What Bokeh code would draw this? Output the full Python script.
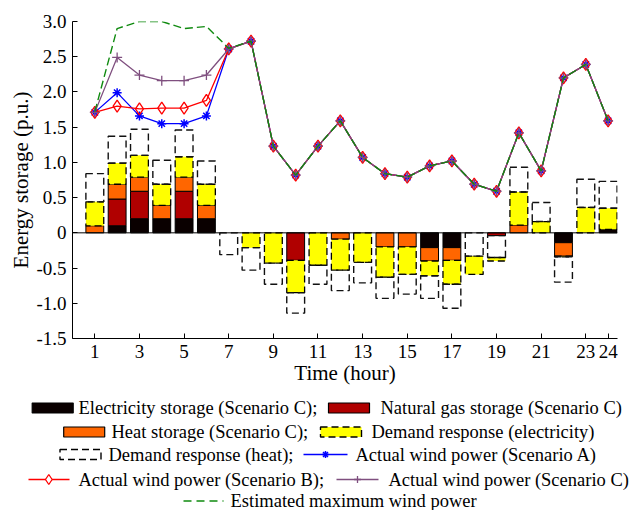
from bokeh.plotting import figure
from bokeh.models import Range1d, FixedTicker, Span
from bokeh.layouts import column
from bokeh.embed import file_html
from bokeh.resources import INLINE
from bokeh.core.properties import value

# ---------------- data ----------------
hours = list(range(1, 25))
x_ticks = [1, 3, 5, 7, 9, 11, 13, 15, 17, 19, 21, 23, 24]
y_ticks = [-1.5, -1.0, -0.5, 0, 0.5, 1.0, 1.5, 2.0, 2.5, 3.0]
y_tick_labels = ["-1.5", "-1.0", "-0.5", "0", "0.5", "1.0", "1.5", "2.0", "2.5", "3.0"]

elec_storage = [0, 0.10, 0.20, 0.20, 0.20, 0.20, 0, 0, 0, 0, 0, 0,
                0, 0, 0, -0.21, -0.21, 0, 0, 0, 0, -0.14, 0, 0.05]
gas_storage = [0, 0.38, 0.39, 0, 0.39, 0, 0, 0, 0, -0.39, 0, 0,
               0, 0, 0, 0, 0, 0, -0.04, 0, 0, 0, 0, 0]
heat_storage = [0.10, 0.21, 0.20, 0.19, 0.20, 0.19, 0, 0, 0, 0, 0, -0.09,
                0, -0.20, -0.20, -0.19, -0.18, 0, 0, 0.11, 0, -0.19, 0, 0]
dr_elec = [0.34, 0.30, 0.31, 0.30, 0.29, 0.30, 0, -0.21, -0.43, -0.46, -0.46, -0.44,
           -0.42, -0.43, -0.39, -0.21, -0.34, -0.26, -0.05, 0.47, 0.16, -0.01, 0.36, 0.30]
dr_heat = [0.40, 0.38, 0.37, 0.34, 0.38, 0.33, -0.31, -0.32, -0.30, -0.29, -0.27, -0.29,
           -0.29, -0.30, -0.28, -0.32, -0.34, -0.33, -0.31, 0.35, 0.27, -0.36, 0.40, 0.38]
heat_dr_first_hours = [18, 19]

common_tail = [1.23, 0.82, 1.23, 1.59, 1.07, 0.84, 0.79, 0.95, 1.02, 0.69, 0.59, 1.42,
               0.88, 2.20, 2.39, 1.59]
wind_max = [1.72, 2.90, 3.00, 3.00, 2.90, 2.93, 2.62, 2.72] + common_tail
wind_a = [1.71, 1.99, 1.66, 1.55, 1.55, 1.66, 2.61, 2.72] + common_tail
wind_b = [1.71, 1.80, 1.76, 1.77, 1.77, 1.88, 2.61, 2.72] + common_tail
wind_c = [1.71, 2.49, 2.24, 2.16, 2.16, 2.24, 2.61, 2.72] + common_tail

FONT = "'Liberation Serif', 'Times New Roman', serif"
C_ELEC = "#0a0000"
C_GAS = "#b00000"
C_HEAT = "#ff6600"
C_DRE = "#ffff00"
C_A = "#0000ff"
C_B = "#ff0000"
C_C = "#7f4f7f"
C_MAX = "#0f8a0f"

# ---------------- stacking ----------------
vals = {"elec": elec_storage, "gas": gas_storage, "heat": heat_storage,
        "dre": dr_elec, "drh": dr_heat}
segs = {k: {"x": [], "bottom": [], "top": []} for k in vals}
for i, h in enumerate(hours):
    if h in heat_dr_first_hours:
        order = ["elec", "gas", "heat", "drh", "dre"]
    else:
        order = ["elec", "gas", "heat", "dre", "drh"]
    base = 0.0
    for k in order:
        v = vals[k][i]
        if v != 0:
            segs[k]["x"].append(h)
            segs[k]["bottom"].append(base)
            segs[k]["top"].append(base + v)
        base += v

# ---------------- main figure ----------------
p = figure(width=633, height=392, x_range=Range1d(0, 24.42), y_range=Range1d(-1.5, 3.0),
           output_backend="svg", toolbar_location=None, frame_align=False,
           min_border_left=72, min_border_right=16, min_border_top=21, min_border_bottom=54)
p.xgrid.visible = False
p.ygrid.visible = False
p.outline_line_color = None
p.background_fill_color = "white"
p.border_fill_color = "white"

BW = 0.8
p.vbar(x=segs["elec"]["x"], bottom=segs["elec"]["bottom"], top=segs["elec"]["top"], width=BW,
       fill_color=C_ELEC, line_color="black", line_width=1)
p.vbar(x=segs["gas"]["x"], bottom=segs["gas"]["bottom"], top=segs["gas"]["top"], width=BW,
       fill_color=C_GAS, line_color="black", line_width=1)
p.vbar(x=segs["heat"]["x"], bottom=segs["heat"]["bottom"], top=segs["heat"]["top"], width=BW,
       fill_color=C_HEAT, line_color="black", line_width=1)
p.vbar(x=segs["dre"]["x"], bottom=segs["dre"]["bottom"], top=segs["dre"]["top"], width=BW,
       fill_color=C_DRE, line_color="black", line_width=1.3, line_dash="7 4")
p.vbar(x=segs["drh"]["x"], bottom=segs["drh"]["bottom"], top=segs["drh"]["top"], width=BW,
       fill_color=None, line_color="#111111", line_width=1.4, line_dash="7 4")

p.add_layout(Span(location=0, dimension="width", line_color="black", line_width=1))

p.line(hours, wind_a, line_color=C_A, line_width=1.3)
p.scatter(hours, wind_a, marker="asterisk", size=9, line_color=C_A, line_width=1.5)
p.line(hours, wind_b, line_color=C_B, line_width=1.3)
p.scatter(hours, wind_b, marker="diamond", size=12, line_color=C_B, fill_color=None, line_width=1.3)
p.line(hours, wind_c, line_color=C_C, line_width=1.3)
p.scatter(hours, wind_c, marker="cross", size=10, line_color=C_C, line_width=1.3)
p.line(hours, wind_max, line_color=C_MAX, line_width=1.4, line_dash="8 4")

for ax in (p.xaxis[0], p.yaxis[0]):
    ax.axis_line_color = "black"
    ax.axis_line_width = 1
    ax.major_tick_in = 5
    ax.major_tick_out = 0
    ax.minor_tick_line_color = None
    ax.major_tick_line_color = "black"
    ax.major_label_text_font = FONT
    ax.major_label_text_font_size = "19px"
    ax.major_label_text_color = "black"
    ax.axis_label_text_font = FONT
    ax.axis_label_text_font_size = "21px"
    ax.axis_label_text_font_style = "normal"
    ax.axis_label_text_color = "black"
    ax.axis_label_standoff = 0

p.xaxis.ticker = FixedTicker(ticks=x_ticks)
p.yaxis.ticker = FixedTicker(ticks=y_ticks)
p.yaxis.major_label_overrides = {t: s for t, s in zip(y_ticks, y_tick_labels)}
p.xaxis.major_label_standoff = 6
p.yaxis.major_label_standoff = 6
p.xaxis.axis_label = "Time (hour)"
p.yaxis.axis_label = "Energy storage (p.u.)"

# ---------------- legend figure (page pixel coordinates) ----------------
leg = figure(width=633, height=118, x_range=Range1d(0, 633), y_range=Range1d(510, 392),
             output_backend="svg", toolbar_location=None, frame_align=False,
             min_border_left=0, min_border_right=0, min_border_top=0, min_border_bottom=0,
             x_axis_location=None, y_axis_location=None)
leg.xgrid.visible = False
leg.ygrid.visible = False
leg.outline_line_color = None

SW, SH = 41, 10
rows = [407.5, 431.5, 454, 479, 500.5]

def swatch(cx, cy, fill, dashed=False):
    leg.rect(x=[cx], y=[cy], width=SW, height=SH, fill_color=fill,
             line_color="black", line_width=1.4 if dashed else 1.2,
             line_dash="7 4" if dashed else "solid")

def label(x, y, s):
    leg.text(x=[x], y=[y], text=[s], text_font=value(FONT), text_font_size=value("18.5px"),
             text_baseline="middle", text_align="left", text_color="black")

swatch(52.2, rows[0], C_ELEC)
label(78, rows[0], "Electricity storage (Scenario C);")
swatch(348.5, rows[0], C_GAS)
label(380, rows[0], "Natural gas storage (Scenario C)")

swatch(83.7, rows[1], C_HEAT)
label(111, rows[1], "Heat storage (Scenario C);")
swatch(340.5, rows[1], C_DRE, dashed=True)
label(371, rows[1], "Demand response (electricity)")

swatch(80, rows[2], None, dashed=True)
label(108, rows[2], "Demand response (heat);")
leg.line([303, 347], [rows[2], rows[2]], line_color=C_A, line_width=1.3)
leg.scatter([325], [rows[2]], marker="asterisk", size=7, line_color=C_A, line_width=1.5)
label(355, rows[2], "Actual wind power (Scenario A)")

leg.line([28, 69], [rows[3], rows[3]], line_color=C_B, line_width=1.3)
leg.scatter([48.3], [rows[3]], marker="diamond", size=10, line_color=C_B, fill_color="white", line_width=1.3)
label(78, rows[3], "Actual wind power (Scenario B);")
leg.line([336, 378], [rows[3], rows[3]], line_color=C_C, line_width=1.3)
leg.scatter([357], [rows[3]], marker="cross", size=7, line_color=C_C, line_width=1.3)
label(388, rows[3], "Actual wind power (Scenario C)")

leg.line([183, 223], [rows[4], rows[4]], line_color=C_MAX, line_width=1.4, line_dash="8 5")
label(230, rows[4], "Estimated maximum wind power")

layout = column(p, leg, spacing=0)
open("out.html", "w").write(file_html(layout, INLINE))
